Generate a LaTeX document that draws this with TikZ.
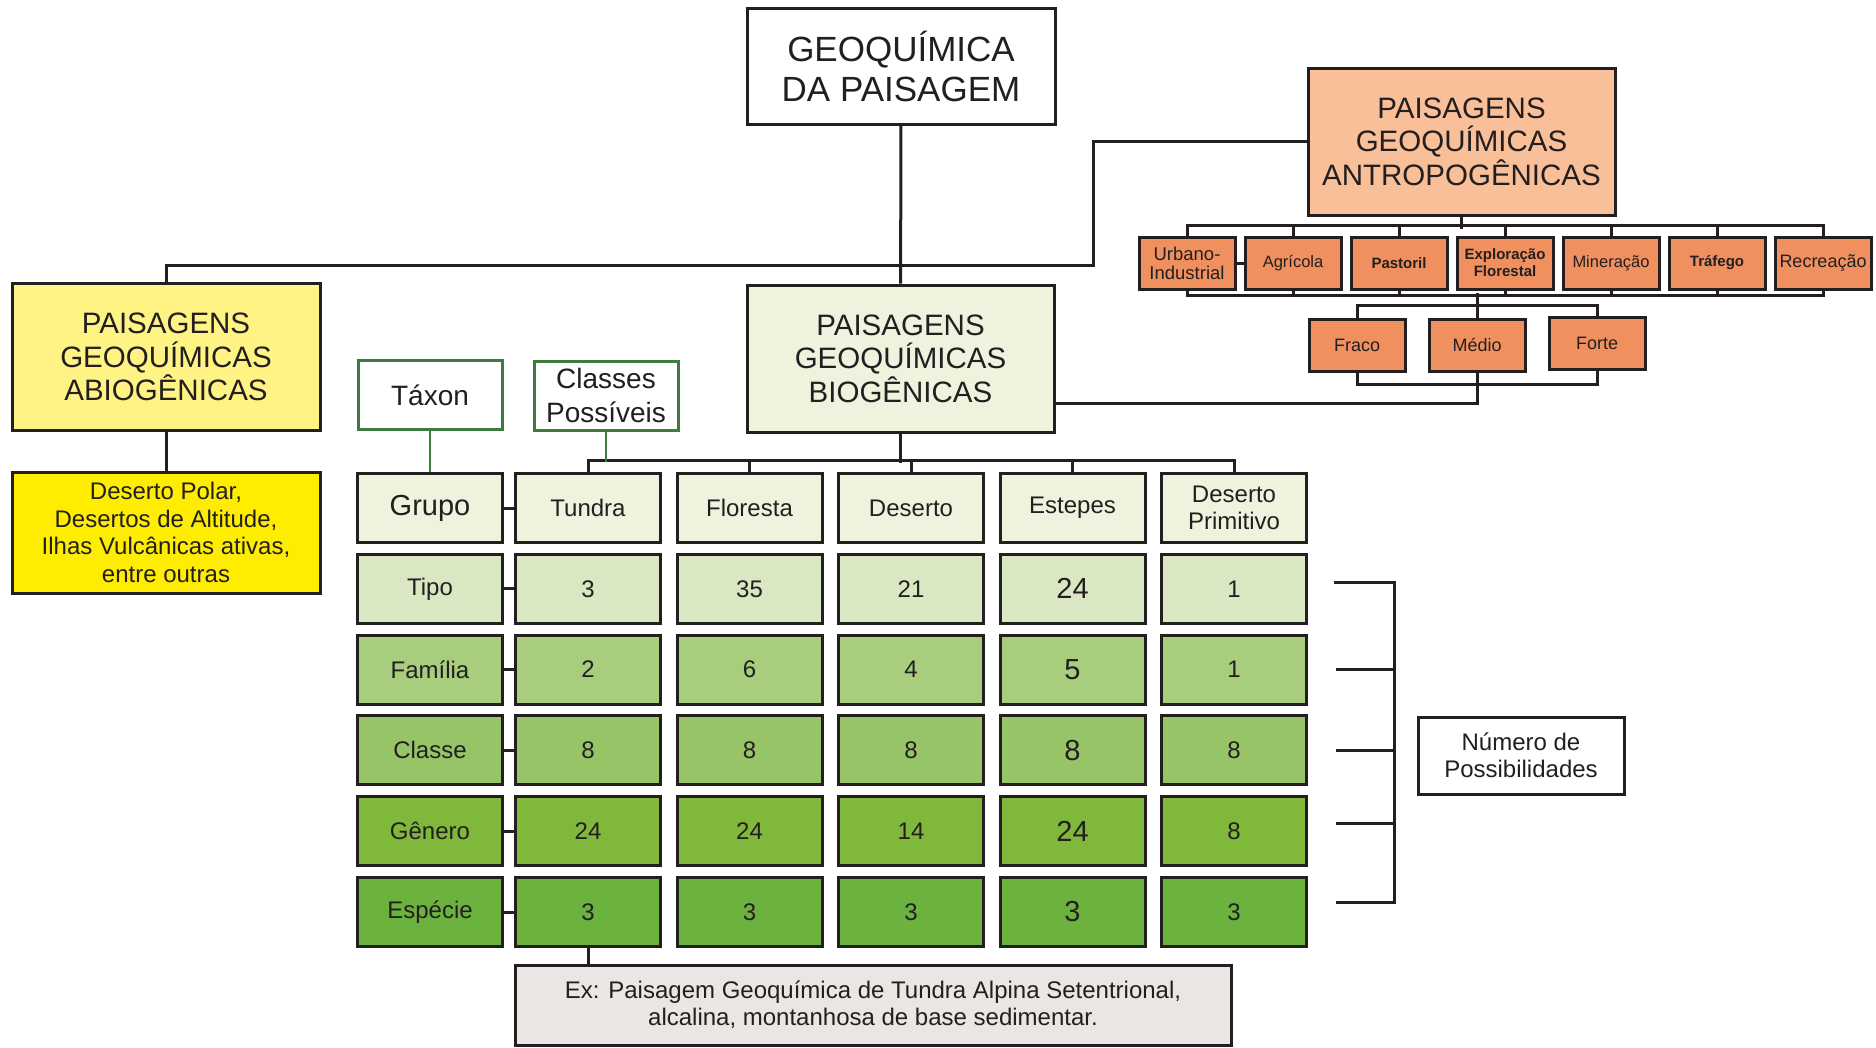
\documentclass[tikz,border=0pt]{standalone}
\usepackage{fontspec}
\setmainfont{Liberation Sans}
\definecolor{ink}{HTML}{231F20}
\definecolor{antrofill}{HTML}{F9BF98}
\definecolor{subfill}{HTML}{F0905E}
\definecolor{abiofill}{HTML}{FFF383}
\definecolor{exabiofill}{HTML}{FFED00}
\definecolor{taxgreen}{HTML}{3E7B3E}
\definecolor{exfill}{HTML}{EAE6E3}
\definecolor{row1}{HTML}{EEF3DD}
\definecolor{row2}{HTML}{D9E8C3}
\definecolor{row3}{HTML}{A7CD7D}
\definecolor{row4}{HTML}{98C468}
\definecolor{row5}{HTML}{7FB83B}
\definecolor{row6}{HTML}{6CB23E}
\begin{document}
\begin{tikzpicture}[x=1pt,y=-1pt,line width=3pt,color=ink,
    box/.style={draw=ink,line width=3pt,inner sep=0pt,align=center,text=ink},
    bigbox/.style={box,minimum width=307pt,minimum height=147pt,font=\fontsize{29.5}{33.5}\selectfont},
    subbox/.style={box,fill=subfill,minimum width=96pt,minimum height=52pt,font=\fontsize{16.5}{18}\selectfont},
    subbold/.style={subbox,font=\fontsize{15}{17}\selectfont\bfseries},
    cell/.style={box,minimum width=145pt,minimum height=69pt,font=\fontsize{24}{27.5}\selectfont},
    legend/.style={box,draw=taxgreen,fill=white,minimum width=144pt,minimum height=69pt,font=\fontsize{28}{33.5}\selectfont},
    col1/.style={},col2/.style={},col3/.style={},col5/.style={},
    col4/.style={font=\fontsize{29}{33}\selectfont}]
  \useasboundingbox (0,0) rectangle (1876,1047);

  % main boxes
  \node[box,minimum width=308pt,minimum height=116pt,font=\fontsize{35}{40}\selectfont] (geo) at (901,66) {GEOQUÍMICA\\DA PAISAGEM};
  \node[bigbox,fill=antrofill] (antro) at (1461.5,141.5) {PAISAGENS\\GEOQUÍMICAS\\ANTROPOGÊNICAS};
  \node[bigbox,fill=abiofill,minimum width=308pt] (abio) at (166,357) {PAISAGENS\\GEOQUÍMICAS\\ABIOGÊNICAS};
  \node[box,fill=exabiofill,minimum width=308pt,minimum height=121pt,font=\fontsize{24}{27.5}\selectfont] (abex) at (166,532.5) {Deserto Polar,\\Desertos de Altitude,\\Ilhas Vulcânicas ativas,\\entre outras};
  \node[bigbox,fill=row1] (bio) at (900.5,358.5) {PAISAGENS\\GEOQUÍMICAS\\BIOGÊNICAS};

  % anthropogenic kinds and intensity
  \node[subbox,font=\fontsize{18.5}{19}\selectfont] (urb) at (1187,263) {Urbano-\\Industrial};
  \node[subbox] (agr) at (1293,263) {Agrícola};
  \node[subbold] (pas) at (1399,263) {Pastoril};
  \node[subbold] (exf) at (1505,263) {Exploração\\Florestal};
  \node[subbox] (min) at (1611,263) {Mineração};
  \node[subbold] (tra) at (1717,263) {Tráfego};
  \node[subbox,font=\fontsize{18}{20}\selectfont] (rec) at (1823,263) {Recreação};
  \node[subbox,font=\fontsize{18}{20}\selectfont] (fra) at (1357,345) {Fraco};
  \node[subbox,font=\fontsize{18}{20}\selectfont] (med) at (1477,345) {Médio};
  \node[subbox,font=\fontsize{18}{20}\selectfont] (for) at (1597,343) {Forte};

  % legend of the table
  \node[legend] (taxon) at (430,395) {Táxon};
  \node[legend] (classes) at (606,395.5) {Classes\\Possíveis};

  % taxa column
  \foreach \lab/\fs [count=\r] in {Grupo/29,Tipo/24,Família/24,Classe/24,Gênero/24,Espécie/24}
    \node[cell,fill=row\r,font=\fontsize{\fs}{\fs}\selectfont] (lab-\r) at (430,{508+80.8*(\r-1)}) {\lab};

  % landscape groups
  \foreach \h [count=\c] in {Tundra,Floresta,Deserto,Estepes,{Deserto\\Primitivo}}
    \node[cell,fill=row1] (v-\c-1) at ({588+161.5*(\c-1)},508) {\h};

  % number of classes
  \foreach \vals [count=\r from 2] in {{3,35,21,24,1},{2,6,4,5,1},{8,8,8,8,8},{24,24,14,24,8},{3,3,3,3,3}}
    \foreach \v [count=\c] in \vals
      \node[cell,fill=row\r,col\c] (v-\c-\r) at ({588+161.5*(\c-1)},{508+80.8*(\r-1)}) {\v};

  \node[box,fill=exfill,minimum width=716pt,minimum height=80pt,font=\fontsize{24}{27}\selectfont] (ex) at (873,1005) {Ex: Paisagem Geoquímica de Tundra Alpina Setentrional,\\alcalina, montanhosa de base sedimentar.};
  \node[box,fill=white,minimum width=206pt,minimum height=77pt,font=\fontsize{24}{27.5}\selectfont] (num) at (1521,755.5) {Número de\\Possibilidades};

  % connectors
  \draw (geo) -- (bio);
  \coordinate (bend) at (1093,265);
  \draw (abio.north) |- (bend) |- (antro.west);
  \draw (abio) -- (abex);

  \draw (antro.south) -- ++(0,12);
  \draw (urb.north) -- ++(0,-10) -| (rec.north);
  \draw (urb.south) -- ++(0,5) -| (rec.south);
  \foreach \n in {agr,pas,exf,min,tra} {
    \draw (\n.north) -- ++(0,-10);
    \draw (\n.south) -- ++(0,5);
  }
  \draw (urb) -- (agr);
  \draw (med.north) -- ++(0,-25);
  \draw (fra.north) -- ++(0,-12) -| (for.north);
  \draw (fra.south) -- ++(0,12) -| (for.south);
  \draw (med.south) |- ([yshift=30pt]bio.south east);

  \draw (bio.south) -- ++(0,29);
  \draw (v-1-1.north) -- ++(0,-12) -| (v-5-1.north);
  \foreach \c in {2,3,4} \draw (v-\c-1.north) -- ++(0,-12);
  \draw[taxgreen,line width=2.5pt] (classes.south) -- ++(0,30);
  \draw[taxgreen,line width=2.5pt] (taxon) -- (lab-1);

  \foreach \r in {1,...,6} \draw (lab-\r) -- (v-1-\r);
  \foreach \c in {1,...,5}
    \foreach \r [evaluate=\r as \n using int(\r+1)] in {1,...,5}
      \draw (v-\c-\r) -- (v-\c-\n);
  \draw (v-1-6.south) -- (v-1-6.south |- ex.north);

  % bracket
  \draw (1334,582) -| (1394,902) -- (1336,902);
  \foreach \y in {669,750,823} \draw (1336,\y) -- (1394,\y);
\end{tikzpicture}
\end{document}
